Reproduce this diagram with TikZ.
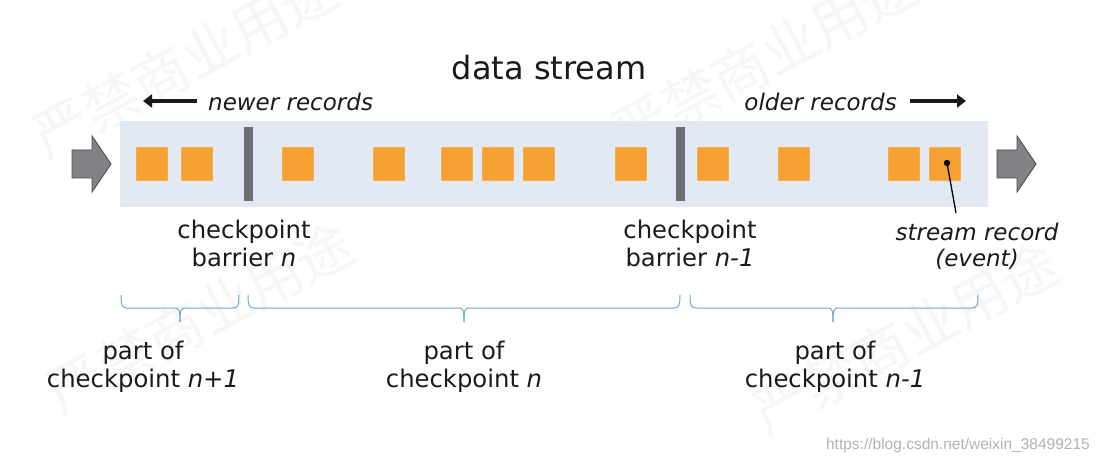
\documentclass[tikz,border=0pt]{standalone}
\usepackage{fontspec}
\setmainfont{DejaVu Sans}
\newfontfamily\cjkfont{Noto Sans CJK SC}
\newfontfamily\urlfont{Liberation Sans}
\usetikzlibrary{arrows.meta}
\definecolor{barbg}{HTML}{E2E9F3}
\definecolor{rec}{HTML}{F4A033}
\definecolor{barrier}{HTML}{6D6E71}
\definecolor{blockfill}{HTML}{808285}
\definecolor{blockline}{HTML}{4D4D4F}
\definecolor{bracecol}{HTML}{6FA8DC}
\definecolor{txt}{HTML}{1A1A1A}
\tikzset{
  record/.style={rectangle, fill=rec, draw=rec!85!white, line width=0.4pt, minimum width=31pt, minimum height=33pt, inner sep=0pt},
  barrierbar/.style={rectangle, fill=barrier, minimum width=9pt, minimum height=74pt, inner sep=0pt},
  label/.style={text=txt, font=\fontsize{24.3}{28}\selectfont, align=center, inner sep=0pt},
  ilabel/.style={label, font=\fontsize{23}{26}\selectfont\itshape},
  dirarrow/.style={line width=3.6pt, -{Triangle[length=9pt,width=13pt]}, txt},
  blockarrow/.style={fill=blockfill, draw=blockline, line width=0.9pt, line join=miter},
  bracestyle/.style={draw=bracecol, line width=1pt},
  watermark/.style={text=black!3.5, font=\cjkfont\fontsize{56}{60}\selectfont, rotate=28, inner sep=0pt}
}
\newcommand{\mybrace}[4]{% y, x1, x2, mid
  \draw[bracestyle] (#2,#1) .. controls (#2,#1+10) and (#2+1,#1+13) .. (#2+6,#1+13)
    -- (#4-5,#1+13) .. controls (#4-1,#1+13) and (#4,#1+15) .. (#4,#1+27);
  \draw[bracestyle] (#3,#1) .. controls (#3,#1+10) and (#3-1,#1+13) .. (#3-6,#1+13)
    -- (#4+5,#1+13) .. controls (#4+1,#1+13) and (#4,#1+15) .. (#4,#1+27);
}
\begin{document}
\begin{tikzpicture}[x=1pt,y=-1pt]
\useasboundingbox[fill=white] (0,0) rectangle (1099,465);
% watermarks
\node[watermark] (wm1) at (185,62) {严禁商业用途};
\node[watermark] (wm2) at (765,58) {严禁商业用途};
\node[watermark] (wm3) at (200,318) {严禁商业用途};
\node[watermark] (wm4) at (905,338) {严禁商业用途};
% title
\node[label, font=\fontsize{32}{36}\selectfont] (title) at (549,68) {data stream};
% direction labels
\node[ilabel, anchor=west] (newer) at (208,102) {newer records};
\node[ilabel, anchor=east] (older) at (897,102) {older records};
\coordinate (na) at (197,101);
\coordinate (nb) at (143,101);
\coordinate (oa) at (910,101);
\coordinate (ob) at (966,101);
\draw[dirarrow] (na) -- (nb);
\draw[dirarrow] (oa) -- (ob);
% stream bar
\node[rectangle, fill=barbg, minimum width=868pt, minimum height=86pt, inner sep=0pt] (bar) at (554,164) {};
% block arrows
\draw[blockarrow] (72,150) -- (92,150) -- (92,136) -- (111,164) -- (92,192) -- (92,178) -- (72,178) -- cycle;
\draw[blockarrow] (997,150) -- (1017,150) -- (1017,136) -- (1036,164) -- (1017,192) -- (1017,178) -- (997,178) -- cycle;
% records
\foreach \n/\x in {1/152,2/197,3/298,4/389,5/457,6/498,7/539,8/631,9/713,10/794,11/904,12/945}
  \node[record] (r\n) at (\x,164) {};
% barriers
\node[barrierbar] (b1) at (248,164) {};
\node[barrierbar] (b2) at (680,164) {};
% labels below
\node[label] (cb1) at (244,243) {checkpoint\\barrier \textit{n}};
\node[label] (cb2) at (690,243) {checkpoint\\barrier \textit{n-1}};
\node[ilabel] (sr) at (977,246) {stream record\\(event)};
% pointer
\coordinate (pe) at (956,213);
\fill[black] (r12.center) ++(2,-1) circle (3.2pt) coordinate (pd);
\draw[black, line width=1.3pt] (pd) -- (pe);
% braces
\mybrace{295}{121}{239}{180}
\mybrace{295}{248}{680}{464}
\mybrace{295}{690}{978}{833}
\node[label] (p1) at (143,367) {part of\\checkpoint \textit{n+1}};
\node[label] (p2) at (464,367) {part of\\checkpoint \textit{n}};
\node[label] (p3) at (835,367) {part of\\checkpoint \textit{n-1}};
% url
\node[anchor=east, text=black!30, font=\urlfont\fontsize{15.5}{18}\selectfont, inner sep=0pt] (url) at (1090,445) {https://blog.csdn.net/weixin\_38499215};
\end{tikzpicture}
\end{document}
